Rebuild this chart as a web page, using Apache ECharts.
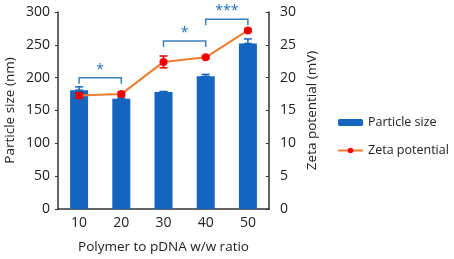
<!DOCTYPE html>
<html>
<head>
<meta charset="utf-8">
<script src="https://cdn.jsdelivr.net/npm/echarts@6/dist/echarts.min.js"></script>
<style>
  html, body { margin: 0; padding: 0; background: #fff; }
  #chart { width: 454px; height: 259px; }
</style>
</head>
<body>
<div id="chart"></div>
<script>
// 数据
const ratios = ['10', '20', '30', '40', '50']
const particleSize = [181, 168, 178, 202, 252]
const particleErr = [5, 1, 1, 3, 7]
const zeta = [17.3, 17.5, 22.4, 23.1, 27.2]
const zetaErr = [0.4, 0.3, 0.9, 0.2, 0.2]
// 显著性标记: [起点类目, 终点类目, 高度(nm), 星号]
const brackets = [
  [0, 1, 200, '*'],
  [2, 3, 256, '*'],
  [3, 4, 289, '***']
]

const font = 'Open Sans'
const myChart = echarts.init(document.getElementById('chart'))

// 误差线
function errorBar (color) {
  return function (params, api) {
    const x = api.value(0)
    const lo = api.coord([x, api.value(1)])
    const hi = api.coord([x, api.value(2)])
    const cap = 4
    return {
      type: 'group',
      children: [
        { type: 'line', shape: { x1: lo[0], y1: lo[1], x2: hi[0], y2: hi[1] }, style: { stroke: color, lineWidth: 1.5 } },
        { type: 'line', shape: { x1: hi[0] - cap, y1: hi[1], x2: hi[0] + cap, y2: hi[1] }, style: { stroke: color, lineWidth: 1.5 } },
        { type: 'line', shape: { x1: lo[0] - cap, y1: lo[1], x2: lo[0] + cap, y2: lo[1] }, style: { stroke: color, lineWidth: 1.5 } }
      ]
    }
  }
}

const option = {
  animation: false,
  grid: { left: 58, right: 185, top: 12, bottom: 47 },
  legend: {
    left: 337,
    top: 116,
    padding: 0,
    orient: 'vertical',
    itemGap: 15,
    itemWidth: 25,
    itemHeight: 7,
    textStyle: { fontFamily: font, fontSize: 12.5, color: '#222' },
    data: ['Particle size', 'Zeta potential']
  },
  xAxis: {
    type: 'category',
    data: ratios,
    name: 'Polymer to pDNA w/w ratio',
    nameLocation: 'middle',
    nameGap: 31,
    nameTextStyle: { fontFamily: font, fontSize: 13.5, color: '#222' },
    axisLine: { lineStyle: { color: '#333', width: 1.5 } },
    axisTick: { inside: true, length: 4, lineStyle: { color: '#333' } },
    axisLabel: { fontFamily: font, fontSize: 14, color: '#222', margin: 7 }
  },
  yAxis: [
    {
      type: 'value',
      min: 0,
      max: 300,
      interval: 50,
      name: 'Particle size (nm)',
      nameLocation: 'middle',
      nameGap: 41,
      nameTextStyle: { fontFamily: font, fontSize: 13.5, color: '#222' },
      splitLine: { show: false },
      axisLine: { show: true, lineStyle: { color: '#333', width: 1.5 } },
      axisTick: { show: true, length: 3, lineStyle: { color: '#333' } },
      axisLabel: { fontFamily: font, fontSize: 14, color: '#222', margin: 8 }
    },
    {
      type: 'value',
      min: 0,
      max: 30,
      interval: 5,
      name: 'Zeta potential (mV)',
      nameLocation: 'middle',
      nameGap: 36,
      nameTextStyle: { fontFamily: font, fontSize: 13.5, color: '#222' },
      splitLine: { show: false },
      axisLine: { show: true, lineStyle: { color: '#333', width: 1.5 } },
      axisTick: { show: true, inside: true, length: 3, lineStyle: { color: '#333' } },
      axisLabel: { fontFamily: font, fontSize: 14, color: '#222', margin: 11 }
    }
  ],
  series: [
    {
      name: 'Particle size',
      type: 'bar',
      data: particleSize,
      barWidth: 18,
      itemStyle: { color: '#1565c0' }
    },
    {
      type: 'custom',
      renderItem: errorBar('#1565c0'),
      data: particleSize.map((v, i) => [i, v, v + particleErr[i]]),
      z: 3
    },
    {
      name: 'Zeta potential',
      type: 'line',
      yAxisIndex: 1,
      data: zeta,
      symbol: 'circle',
      symbolSize: 8,
      lineStyle: { color: '#ed7d31', width: 2 },
      itemStyle: { color: '#ff0000' },
      z: 5
    },
    {
      type: 'custom',
      yAxisIndex: 1,
      renderItem: errorBar('#e00000'),
      data: zeta.map((v, i) => [i, v - zetaErr[i], v + zetaErr[i]]),
      z: 6
    },
    {
      // 显著性括号
      type: 'custom',
      renderItem: function (params, api) {
        const a = api.coord([api.value(0), api.value(2)])
        const b = api.coord([api.value(1), api.value(2)])
        const drop = 6
        return {
          type: 'group',
          children: [
            {
              type: 'polyline',
              shape: { points: [[a[0], a[1] + drop], [a[0], a[1]], [b[0], b[1]], [b[0], b[1] + drop]] },
              style: { stroke: '#3d7fb8', lineWidth: 1.5, fill: null }
            },
            {
              type: 'text',
              x: (a[0] + b[0]) / 2,
              y: a[1] - 1,
              style: {
                text: brackets[params.dataIndex][3],
                fill: '#1f6fc0',
                font: '14px ' + font,
                align: 'center',
                verticalAlign: 'bottom'
              }
            }
          ]
        }
      },
      data: brackets.map(b => [b[0], b[1], b[2]]),
      z: 4
    }
  ]
}

myChart.setOption(option)
window.addEventListener('resize', () => {
  myChart.resize()
})
</script>
</body>
</html>
